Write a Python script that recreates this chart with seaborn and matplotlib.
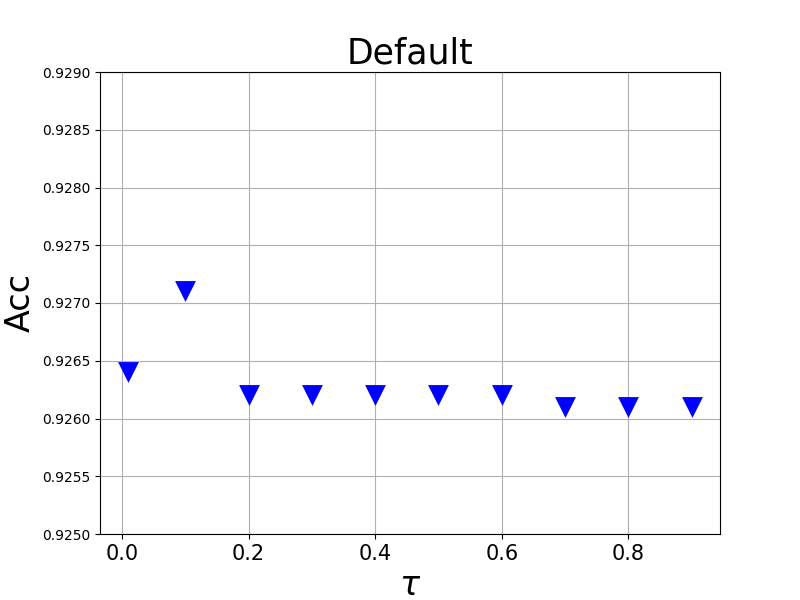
import seaborn as sns
import pandas as pd
from matplotlib import pyplot as plt

# tau values and accuracy
tau = [0.01, 0.1, 0.2, 0.3, 0.4, 0.5, 0.6, 0.7, 0.8, 0.9]
acc = [0.9264, 0.9271, 0.9262, 0.9262, 0.9262, 0.9262, 0.9262, 0.9261, 0.9261, 0.9261]

df = pd.DataFrame({'tau': tau, 'acc': acc})

fig, ax = plt.subplots(figsize=(8, 6), dpi=100)
sns.scatterplot(data=df, x='tau', y='acc', marker='v', s=15**2, color='blue',
                linewidth=0, ax=ax, zorder=3)

ax.set_ylim(0.925, 0.929)
ax.set_yticks([0.925 + 0.0005 * i for i in range(9)])
ax.yaxis.set_major_formatter(plt.FormatStrFormatter('%.4f'))
ax.grid(True)
ax.set_axisbelow(True)
ax.tick_params(axis='x', labelsize=15)
ax.set_xlabel(r'$\tau$', fontsize=24)
ax.set_ylabel('Acc', fontsize=24)
ax.set_title('Default', fontsize=25)

plt.savefig('out.png')
